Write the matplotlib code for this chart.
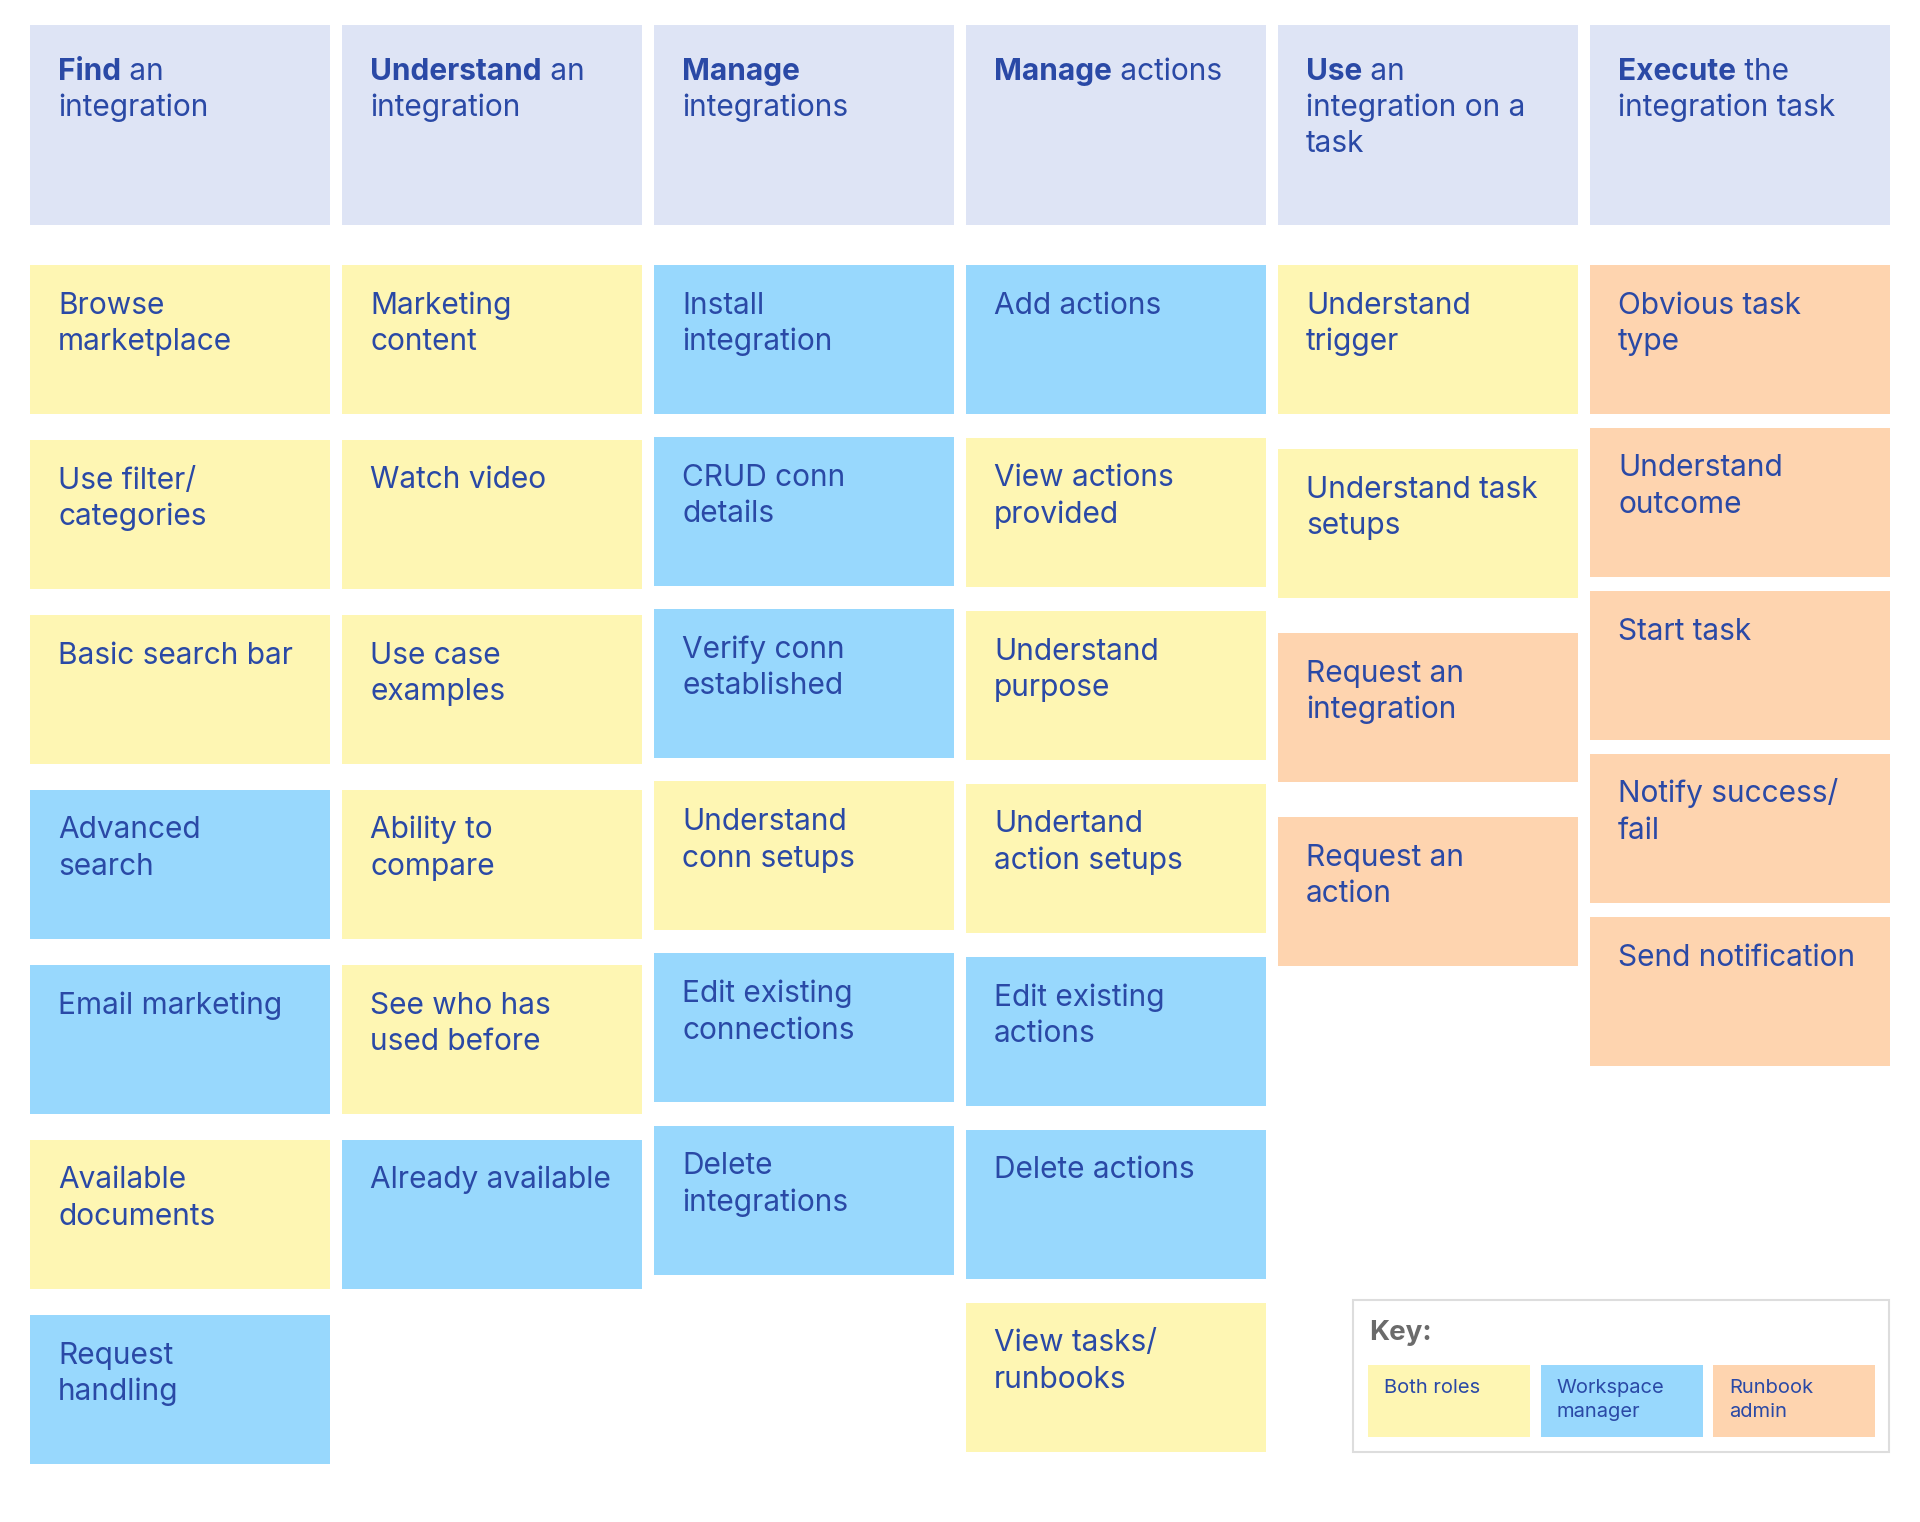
import matplotlib.pyplot as plt
from matplotlib.patches import Rectangle

plt.rcParams['font.family'] = ['Inter', 'DejaVu Sans']

# ---- data ----
header_bold = ["Find", "Understand", "Manage", "Manage", "Use", "Execute"]
header_rest = [
    " an\nintegration",
    " an\nintegration",
    "\nintegrations",
    " actions",
    " an\nintegration on a\ntask",
    " the\nintegration task",
]

col_find = ["Browse\nmarketplace", "Use filter/\ncategories", "Basic search bar",
            "Advanced\nsearch", "Email marketing", "Available\ndocuments", "Request\nhandling"]
role_find = ["both", "both", "both", "ws", "ws", "both", "ws"]

col_understand = ["Marketing\ncontent", "Watch video", "Use case\nexamples",
                  "Ability to\ncompare", "See who has\nused before", "Already available"]
role_understand = ["both", "both", "both", "both", "both", "ws"]

col_manage_int = ["Install\nintegration", "CRUD conn\ndetails", "Verify conn\nestablished",
                  "Understand\nconn setups", "Edit existing\nconnections", "Delete\nintegrations"]
role_manage_int = ["ws", "ws", "ws", "both", "ws", "ws"]

col_manage_act = ["Add actions", "View actions\nprovided", "Understand\npurpose",
                  "Undertand\naction setups", "Edit existing\nactions", "Delete actions",
                  "View tasks/\nrunbooks"]
role_manage_act = ["ws", "both", "both", "both", "ws", "ws", "both"]

col_use = ["Understand\ntrigger", "Understand task\nsetups", "Request an\nintegration",
           "Request an\naction"]
role_use = ["both", "both", "rb", "rb"]

col_execute = ["Obvious task\ntype", "Understand\noutcome", "Start task",
               "Notify success/\nfail", "Send notification"]
role_execute = ["rb", "rb", "rb", "rb", "rb"]

key_roles = ["both", "ws", "rb"]
key_labels = ["Both roles", "Workspace\nmanager", "Runbook\nadmin"]

columns = [(col_find, role_find), (col_understand, role_understand),
           (col_manage_int, role_manage_int), (col_manage_act, role_manage_act),
           (col_use, role_use), (col_execute, role_execute)]

# ---- style / layout ----
role_color = {"both": "#fef6b3", "ws": "#98d8fd", "rb": "#fed4af"}
header_color = "#dee4f5"
text_color = "#2a49a6"
W, H = 1920, 1522
col_x0, col_w, col_pitch = 30, 300, 312
head_top, head_h = 24.5, 200
card_top, card_h = 264.5, 149
row_pitch = [175, 175, 172.2, 173, 184, 163]
fs, line_h = 21.5, 36.5
pad_x = 28

fig = plt.figure(figsize=(W / 100, H / 100), dpi=100)
ax = fig.add_axes([0, 0, 1, 1])
ax.set_xlim(0, W)
ax.set_ylim(H, 0)
ax.axis("off")
renderer = fig.canvas.get_renderer()

for i, (labels, roles) in enumerate(columns):
    x = col_x0 + i * col_pitch
    # header
    ax.add_patch(Rectangle((x, head_top), col_w, head_h, color=header_color, lw=0))
    by = head_top + 55
    t = ax.text(x + pad_x, by, header_bold[i], fontsize=fs, fontweight="bold",
                color=text_color, va="baseline", ha="left")
    bw = t.get_window_extent(renderer).width
    lines = header_rest[i].split("\n")
    ax.text(x + pad_x + bw, by, lines[0], fontsize=fs, color=text_color,
            va="baseline", ha="left")
    for k, ln in enumerate(lines[1:], start=1):
        ax.text(x + pad_x, by + k * line_h, ln, fontsize=fs, color=text_color,
                va="baseline", ha="left")
    # cards
    for j, (lab, role) in enumerate(zip(labels, roles)):
        y = card_top + j * row_pitch[i]
        ax.add_patch(Rectangle((x, y), col_w, card_h, color=role_color[role], lw=0))
        for k, ln in enumerate(lab.split("\n")):
            ax.text(x + pad_x, y + 49 + k * line_h, ln, fontsize=fs, color=text_color,
                    va="baseline", ha="left")

# key box
ax.add_patch(Rectangle((1353, 1300), 536, 152, facecolor="white",
                       edgecolor="#dddddd", lw=1.5))
ax.text(1369, 1340, "Key:", fontsize=20, fontweight="bold", color="#6b6b6b",
        va="baseline", ha="left")
for k, (role, lab) in enumerate(zip(key_roles, key_labels)):
    kx = 1368 + k * 172.5
    ax.add_patch(Rectangle((kx, 1365), 162, 72, color=role_color[role], lw=0))
    for m, ln in enumerate(lab.split("\n")):
        ax.text(kx + 16, 1393 + m * 24, ln, fontsize=14.5, color=text_color,
                va="baseline", ha="left")

fig.savefig("out.png", dpi=100, facecolor="white")
